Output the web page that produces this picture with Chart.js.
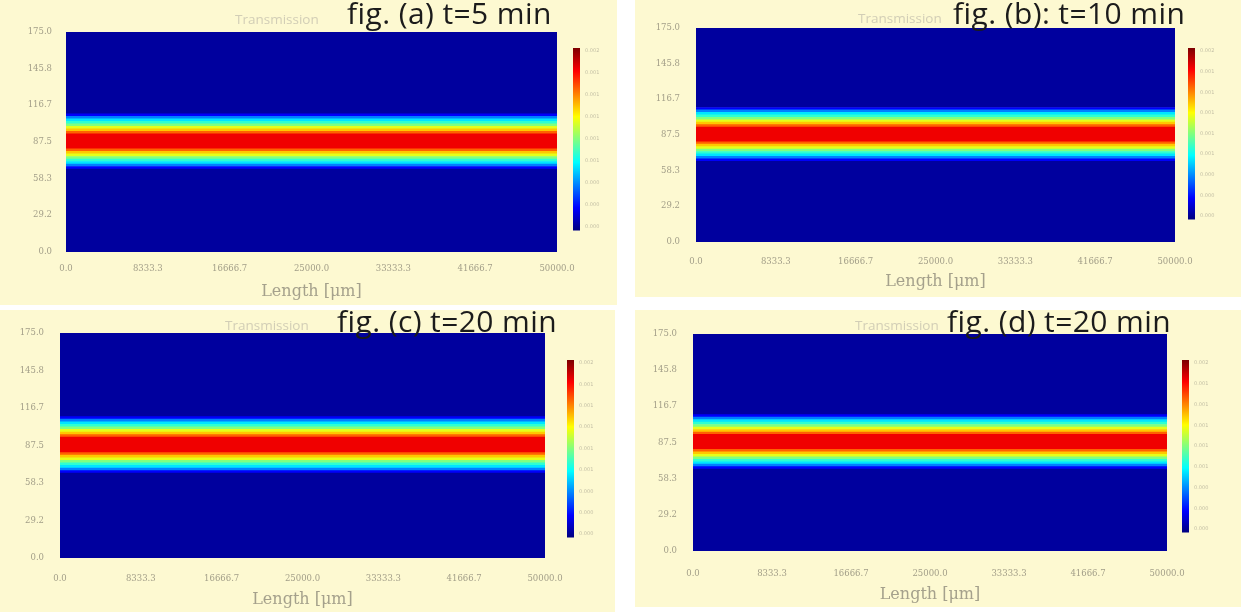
<!DOCTYPE html>
<html>
<head>
<meta charset="utf-8">
<script src="https://cdn.jsdelivr.net/npm/chart.js@4.4.1/dist/chart.umd.min.js"></script>
<style>
  body { margin: 0; background: #fff; width: 1241px; height: 615px; position: relative; overflow: hidden; }
  .panel { position: absolute; background: #fdf9d1; }
  .panel canvas { position: absolute; left: 0; top: 0; }
  .trans { position: absolute; font: 13.5px "Open Sans", sans-serif; color: #d2ceb6; white-space: nowrap; line-height: 1; }
  .fig { position: absolute; font: 30px "Open Sans", sans-serif; letter-spacing: 0.4px; color: #1b1b1b; white-space: nowrap; line-height: 1; }
</style>
</head>
<body>
<script>
// axis ticks (same on all four panels)
const xTicks = [0, 8333.3, 16666.7, 25000, 33333.3, 41666.7, 50000];
const yTicks = [0, 29.2, 58.3, 87.5, 116.7, 145.8, 175];

// rows of the transmission map (y edges) and normalised intensity of each row
const rowEdges = [0, 66, 68, 70, 72, 74, 76, 78, 80, 82, 94, 96, 98, 100, 102, 104, 106, 108, 110, 175];
const bandA = [0.03, 0.12, 0.25, 0.35, 0.42, 0.5, 0.6, 0.68, 0.78, 0.89, 0.78, 0.68, 0.6, 0.5, 0.42, 0.35, 0.25, 0.12, 0.03];
const bandB = [0.03, 0.12, 0.25, 0.35, 0.42, 0.5, 0.6, 0.68, 0.78, 0.89, 0.78, 0.68, 0.6, 0.5, 0.42, 0.35, 0.25, 0.12, 0.03];
const bandC = [0.03, 0.12, 0.25, 0.35, 0.42, 0.5, 0.6, 0.68, 0.78, 0.89, 0.78, 0.68, 0.6, 0.5, 0.42, 0.35, 0.25, 0.12, 0.03];
const bandD = [0.03, 0.12, 0.25, 0.35, 0.42, 0.5, 0.6, 0.68, 0.78, 0.89, 0.78, 0.68, 0.6, 0.5, 0.42, 0.35, 0.25, 0.12, 0.03];

const cbarLabels = ['0.002', '0.001', '0.001', '0.001', '0.001', '0.001', '0.000', '0.000', '0.000'];
const figLabels = ['fig. (a) t=5 min', 'fig. (b): t=10 min', 'fig. (c) t=20 min', 'fig. (d) t=20 min'];
const plotTitle = 'Transmission';
const xTitle = 'Length [μm]';

// panel placement (fig = left, baseline)
const panels = [
  { band: bandA, left: 0,   top: 0,   w: 617, h: 305, area: { l: 66, t: 32, r: 60, b: 53 }, yPad: 14, xPad: 12, tPad: 4, cbar: { gap: 16, top: 16, bottom: 22 }, trans: [235, 20], fig: [347, 25] },
  { band: bandB, left: 635, top: 0,   w: 606, h: 297, area: { l: 61, t: 28, r: 66, b: 55 }, yPad: 16, xPad: 15, tPad: 6, cbar: { gap: 13, top: 20, bottom: 23 }, trans: [223, 19], fig: [318, 25] },
  { band: bandC, left: 0,   top: 310, w: 615, h: 302, area: { l: 60, t: 23, r: 70, b: 54 }, yPad: 16, xPad: 16, tPad: 3, cbar: { gap: 22, top: 27, bottom: 21 }, trans: [225, 16], fig: [337, 23] },
  { band: bandD, left: 635, top: 310, w: 606, h: 297, area: { l: 58, t: 24, r: 74, b: 56 }, yPad: 16, xPad: 18, tPad: 3, cbar: { gap: 15, top: 26, bottom: 19 }, trans: [220, 16], fig: [312, 23] }
];

function jet(t) {
  const c = v => Math.round(255 * Math.max(0, Math.min(1, v)));
  return 'rgb(' + c(1.5 - Math.abs(4 * t - 3)) + ',' + c(1.5 - Math.abs(4 * t - 2)) + ',' + c(1.5 - Math.abs(4 * t - 1)) + ')';
}

const tickFont = { family: '"DejaVu Serif", serif', size: 8.5 };
const tickColor = '#a29e88';

const colorbar = {
  id: 'colorbar',
  afterDraw(chart, args, o) {
    const { ctx, chartArea: a } = chart;
    const x = a.right + o.gap, top = a.top + o.top, bot = a.bottom - o.bottom;
    const h = bot - top;
    ctx.save();
    for (let i = 0; i < h; i++) {
      ctx.fillStyle = jet(1 - i / h);
      ctx.fillRect(x, top + i, 7, 1.5);
    }
    ctx.font = '5px "DejaVu Sans", sans-serif';
    ctx.fillStyle = '#c4c0a6';
    ctx.textBaseline = 'middle';
    cbarLabels.forEach((s, i) => {
      ctx.fillText(s, x + 12, top + 3 + (h - 6) * i / (cbarLabels.length - 1));
    });
    ctx.restore();
  }
};

panels.forEach((p, k) => {
  const div = document.createElement('div');
  div.className = 'panel';
  Object.assign(div.style, { left: p.left + 'px', top: p.top + 'px', width: p.w + 'px', height: p.h + 'px' });
  const cv = document.createElement('canvas');
  cv.width = p.w; cv.height = p.h;
  div.appendChild(cv);
  const tr = document.createElement('div');
  tr.className = 'trans'; tr.textContent = plotTitle;
  tr.style.left = p.trans[0] + 'px'; tr.style.top = (p.trans[1] - 7) + 'px';
  div.appendChild(tr);
  const fg = document.createElement('div');
  fg.className = 'fig'; fg.textContent = figLabels[k];
  fg.style.left = p.fig[0] + 'px'; fg.style.top = (p.fig[1] - 26.6) + 'px';
  div.appendChild(fg);
  document.body.appendChild(div);

  const datasets = p.band.map((v, i) => ({
    data: [[rowEdges[i], rowEdges[i + 1]]],
    backgroundColor: jet(v),
    borderWidth: 0,
    grouped: false,
    barPercentage: 1,
    categoryPercentage: 1,
    xAxisID: 'x',
    yAxisID: 'y'
  }));

  new Chart(cv, {
    type: 'bar',
    data: { labels: ['row'], datasets },
    options: {
      responsive: false,
      animation: false,
      layout: { padding: { top: p.area.t, right: p.area.r, left: 0, bottom: 0 } },
      plugins: {
        legend: { display: false },
        tooltip: { enabled: false },
        colorbar: p.cbar
      },
      scales: {
        x: { type: 'category', display: false },
        x2: {
          type: 'linear', position: 'bottom', min: 0, max: 50000, offset: false,
          afterBuildTicks: s => { s.ticks = xTicks.map(v => ({ value: v })); },
          afterFit: s => { s.height = p.area.b; },
          ticks: { font: tickFont, color: tickColor, padding: p.xPad, maxRotation: 0, autoSkip: false, callback: v => v.toFixed(1) },
          grid: { display: false, drawTicks: false, offset: false },
          border: { display: false },
          title: { display: true, text: xTitle, color: '#a5a18c', font: { family: '"DejaVu Serif", serif', size: 16 }, padding: { top: 0, bottom: p.tPad } }
        },
        y: {
          type: 'linear', min: 0, max: 175,
          afterBuildTicks: s => { s.ticks = yTicks.map(v => ({ value: v })); },
          afterFit: s => { s.width = p.area.l; },
          ticks: { font: tickFont, color: tickColor, padding: p.yPad, autoSkip: false, callback: v => v.toFixed(1) },
          grid: { display: false, drawTicks: false },
          border: { display: false }
        }
      }
    },
    plugins: [colorbar]
  });
});
</script>
</body>
</html>
